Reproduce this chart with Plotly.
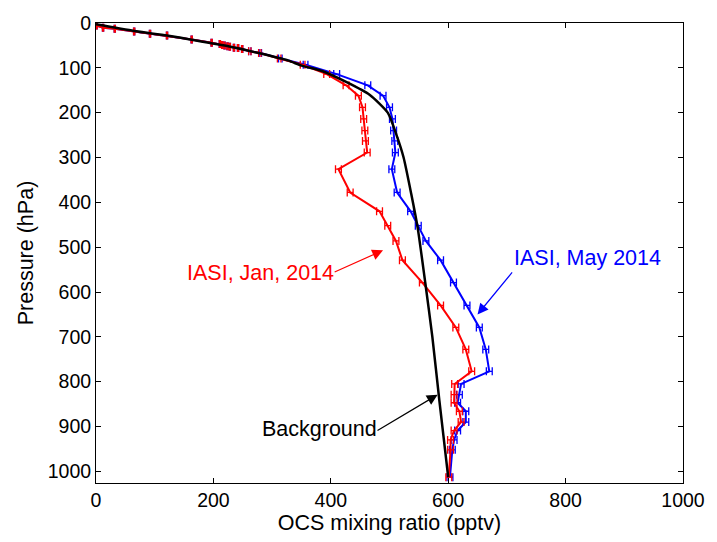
import plotly.graph_objects as go

# Retrieval pressure levels (hPa)
pressure = [5.6, 10.8, 13, 19, 24, 28, 37, 44, 47, 49, 50, 52, 53, 55, 56, 58,
            63, 67, 79, 93, 114, 139, 162, 188, 214, 240, 263, 289, 326, 378,
            420, 452, 486, 529, 579, 630, 679, 728, 777, 805, 829, 847, 866,
            890, 909, 930, 952, 1013]

# IASI OCS profiles (pptv)
ocs_jan = [1, 12, 32, 65, 92, 121, 163, 197, 211, 215, 219, 224, 228, 235, 242, 249,
           262, 279, 312, 352, 393, 426, 447, 454, 456, 458, 459, 462, 413, 433,
           483, 497, 511, 522, 556, 587, 613, 630, 640, 611, 610, 610, 619,
           622, 610, 604, 604, 601]
ocs_may = [1, 12, 32, 65, 92, 121, 163, 197, 211, 215, 219, 224, 228, 235, 242, 249,
           262, 280, 314, 357, 410, 463, 489, 500, 505, 507, 509, 510, 504, 513,
           536, 549, 562, 587, 609, 632, 653, 664, 670, 622, 619, 616, 630,
           630, 616, 610, 607, 603]

# Error bar half-widths (pptv)
err_jan = [1, 1, 1, 1, 1, 1, 1, 1, 1, 1, 1, 1, 1, 1, 1, 1,
           2, 2, 3, 4, 5, 5, 5, 5, 5, 5, 5, 5, 5, 5,
           5, 5, 5, 5, 5, 5, 5, 5, 5, 5, 5, 5, 5,
           5, 5, 5, 5, 5]
err_may = err_jan

# Background (a priori) profile
bg_pressure = [3, 18, 28, 37.5, 52.5, 67, 84, 95, 107, 132, 160, 200, 250,
               300, 381, 457, 580, 700, 843, 1013]
bg_ocs = [0, 65, 121, 163, 227, 277, 328, 350, 385, 427, 466, 497, 512,
          524, 537, 548, 561, 573, 585, 600]

FONT = "Liberation Sans, Arial, Helvetica, sans-serif"

fig = go.Figure()

fig.add_trace(go.Scatter(
    x=ocs_may, y=pressure, mode="lines", name="IASI, May 2014",
    line=dict(color="#0000ff", width=2),
    error_x=dict(type="data", array=err_may, visible=True,
                 color="#0000ff", thickness=1.3, width=4),
))
fig.add_trace(go.Scatter(
    x=ocs_jan, y=pressure, mode="lines", name="IASI, Jan, 2014",
    line=dict(color="#ff0000", width=2),
    error_x=dict(type="data", array=err_jan, visible=True,
                 color="#ff0000", thickness=1.3, width=4),
))
fig.add_trace(go.Scatter(
    x=bg_ocs, y=bg_pressure, mode="lines", name="Background",
    line=dict(color="#000000", width=2.5, shape="spline", smoothing=0.6),
))

# Labels with arrows
labels = [
    dict(text="IASI, Jan, 2014", color="#ff0000", tx=280, ty=558,
         tail=(404, 557), tip=(489, 507)),
    dict(text="IASI, May 2014", color="#0000ff", tx=837, ty=525,
         tail=(711, 553), tip=(650, 650)),
    dict(text="Background", color="#000000", tx=380, ty=905,
         tail=(477, 911), tip=(582, 829)),
]
for lab in labels:
    fig.add_annotation(x=lab["tx"], y=lab["ty"], text=lab["text"], showarrow=False,
                       font=dict(family=FONT, size=21.5, color=lab["color"]))
    fig.add_annotation(x=lab["tip"][0], y=lab["tip"][1], ax=lab["tail"][0], ay=lab["tail"][1],
                       axref="x", ayref="y", xref="x", yref="y", text="",
                       showarrow=True, arrowhead=2, arrowsize=1.8, arrowwidth=1.2,
                       arrowcolor=lab["color"])

axis_common = dict(showline=True, linecolor="black", linewidth=1, mirror="ticks",
                   ticks="inside", ticklen=5, tickcolor="black", showgrid=False,
                   zeroline=False, tickfont=dict(family=FONT, size=19.5, color="black"))

fig.update_layout(
    width=717, height=542,
    margin=dict(l=96, r=30, t=22, b=59),
    paper_bgcolor="white", plot_bgcolor="white",
    showlegend=False,
    font=dict(family=FONT, color="black"),
    xaxis=dict(range=[0, 1000], dtick=200, tick0=0,
               title=dict(text="OCS mixing ratio (pptv)", font=dict(family=FONT, size=21.5),
                          standoff=3),
               **axis_common),
    yaxis=dict(range=[1026, 0], dtick=100, tick0=0,
               title=dict(text="Pressure (hPa)", font=dict(family=FONT, size=21.5),
                          standoff=8),
               **axis_common),
)

fig.write_html("out.html")
